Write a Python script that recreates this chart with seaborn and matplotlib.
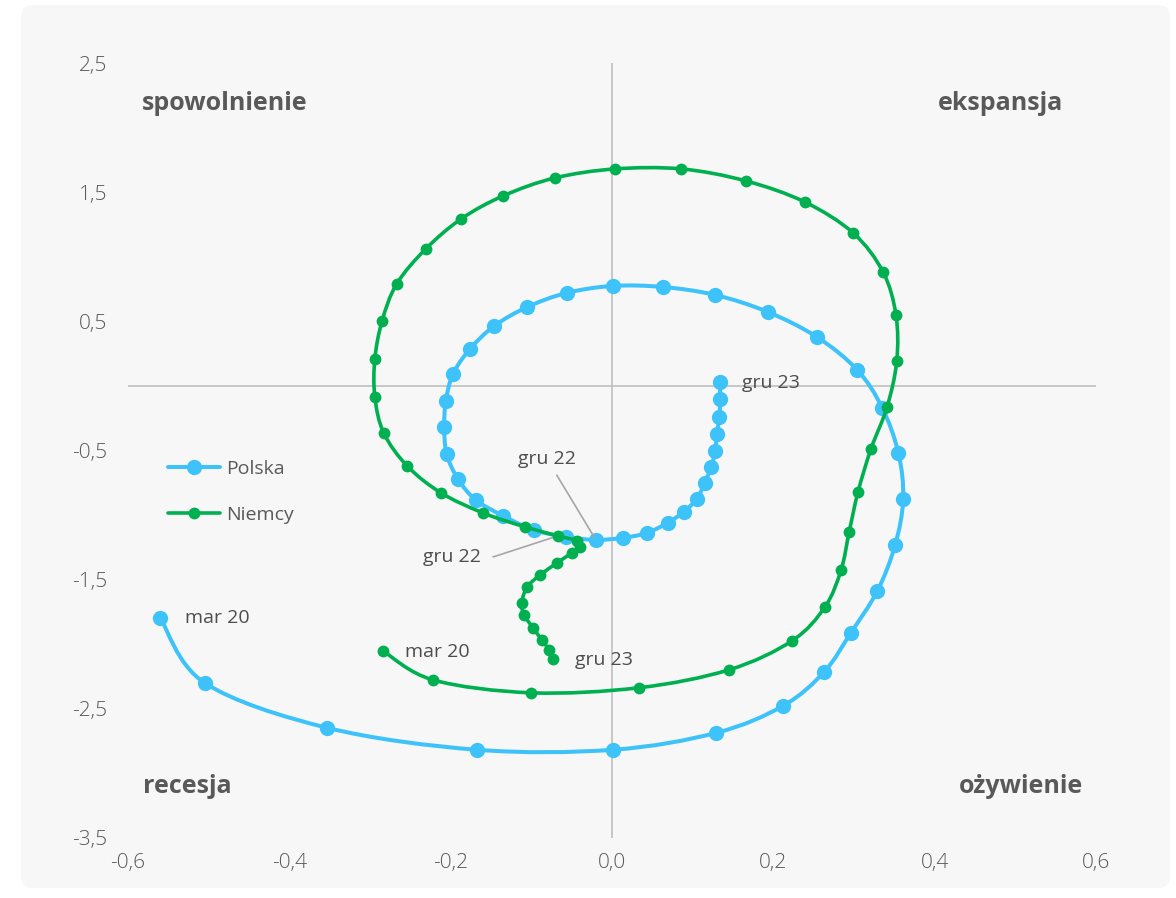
import numpy as np
import pandas as pd
import matplotlib
matplotlib.use("Agg")
import matplotlib.pyplot as plt
import seaborn as sns
from matplotlib.path import Path
from matplotlib.patches import PathPatch, FancyBboxPatch
from matplotlib.lines import Line2D
from matplotlib.transforms import IdentityTransform

# --- DATA (mar 20 .. gru 23, monthly) ---
polska_x = [-0.560, -0.505, -0.353, -0.167, 0.001, 0.129, 0.212, 0.263, 0.296, 0.329,
            0.351, 0.361, 0.355, 0.335, 0.304, 0.254, 0.193, 0.128, 0.063, 0.001,
            -0.056, -0.105, -0.146, -0.176, -0.197, -0.206, -0.208, -0.205, -0.191, -0.169,
            -0.135, -0.097, -0.057, -0.020, 0.014, 0.043, 0.069, 0.089, 0.105, 0.115,
            0.123, 0.128, 0.130, 0.133, 0.134, 0.134]
polska_y = [-1.796, -2.299, -2.647, -2.817, -2.817, -2.686, -2.477, -2.214, -1.912, -1.587,
            -1.231, -0.875, -0.519, -0.170, 0.124, 0.379, 0.573, 0.704, 0.766, 0.774,
            0.720, 0.611, 0.464, 0.286, 0.093, -0.116, -0.317, -0.526, -0.720, -0.882,
            -1.006, -1.115, -1.169, -1.192, -1.176, -1.138, -1.060, -0.975, -0.875, -0.751,
            -0.627, -0.503, -0.372, -0.240, -0.101, 0.031]

niemcy_x = [-0.284, -0.222, -0.100, 0.033, 0.145, 0.223, 0.264, 0.284, 0.294, 0.305,
            0.321, 0.341, 0.353, 0.352, 0.336, 0.299, 0.239, 0.166, 0.086, 0.004,
            -0.071, -0.135, -0.187, -0.231, -0.267, -0.285, -0.294, -0.294, -0.283, -0.254,
            -0.212, -0.160, -0.108, -0.067, -0.043, -0.040, -0.050, -0.068, -0.089, -0.105,
            -0.112, -0.109, -0.098, -0.087, -0.078, -0.073]
niemcy_y = [-2.051, -2.276, -2.376, -2.337, -2.198, -1.974, -1.711, -1.424, -1.130, -0.820,
            -0.488, -0.163, 0.193, 0.550, 0.882, 1.184, 1.424, 1.587, 1.680, 1.680,
            1.610, 1.471, 1.293, 1.060, 0.789, 0.503, 0.209, -0.085, -0.364, -0.619,
            -0.828, -0.983, -1.091, -1.161, -1.200, -1.246, -1.293, -1.370, -1.463, -1.556,
            -1.680, -1.772, -1.873, -1.966, -2.043, -2.113]

months = pd.period_range("2020-03", "2023-12", freq="M")
pl_months = ["sty", "lut", "mar", "kwi", "maj", "cze", "lip", "sie", "wrz", "paź", "lis", "gru"]
month_labels = [f"{pl_months[p.month - 1]} {p.year % 100:02d}" for p in months]

x_ticks = [-0.6, -0.4, -0.2, 0.0, 0.2, 0.4, 0.6]
y_ticks = [-3.5, -2.5, -1.5, -0.5, 0.5, 1.5, 2.5]
quadrants = ["spowolnienie", "ekspansja", "recesja", "ożywienie"]

blue = "#3DC3F9"
green = "#00B050"
gray_txt = "#595959"

df = pd.concat([
    pd.DataFrame({"kraj": "Polska", "x": polska_x, "y": polska_y, "miesiac": month_labels}),
    pd.DataFrame({"kraj": "Niemcy", "x": niemcy_x, "y": niemcy_y, "miesiac": month_labels}),
], ignore_index=True)

sns.set_theme(style="white")
plt.rcParams["font.family"] = ["Open Sans", "DejaVu Sans"]


def smooth_path(xs, ys, t=1 / 6):
    # Excel-like smoothed line: cubic bezier through every point
    pts = np.column_stack([xs, ys])
    verts = [pts[0]]
    codes = [Path.MOVETO]
    n = len(pts)
    for i in range(n - 1):
        p0 = pts[i - 1] if i > 0 else pts[i]
        p1, p2 = pts[i], pts[i + 1]
        p3 = pts[i + 2] if i + 2 < n else pts[i + 1]
        verts += [p1 + (p2 - p0) * t, p2 - (p3 - p1) * t, p2]
        codes += [Path.CURVE4] * 3
    return Path(verts, codes)


fig = plt.figure(figsize=(11.76, 8.98), dpi=100, facecolor="white")
fig.add_artist(FancyBboxPatch((21, 10), 1149, 883, boxstyle="round,pad=0,rounding_size=12",
                              transform=IdentityTransform(), facecolor="#F7F7F7",
                              edgecolor="none", zorder=0))

ax = fig.add_axes([128 / 1176, 1 - 838 / 898, 968 / 1176, 775 / 898])
ax.set_facecolor("none")
ax.set_xlim(-0.6, 0.6)
ax.set_ylim(-3.5, 2.5)

ax.axhline(0, color="#BFBFBF", lw=1.2, zorder=1)
ax.axvline(0, color="#BFBFBF", lw=1.2, zorder=1)

styles = {"Polska": (blue, 2.9, 11), "Niemcy": (green, 2.6, 8.5)}
for i, kraj in enumerate(["Polska", "Niemcy"]):
    d = df[df["kraj"] == kraj]
    col, lw, ms = styles[kraj]
    ax.add_patch(PathPatch(smooth_path(d["x"].values, d["y"].values), facecolor="none",
                           edgecolor=col, lw=lw, capstyle="round", zorder=2 + 2 * i))
    sns.scatterplot(data=d, x="x", y="y", color=col, s=ms ** 2, linewidth=0,
                    legend=False, ax=ax, zorder=3 + 2 * i)

ax.set_xticks(x_ticks)
ax.set_yticks(y_ticks)
ax.set_xticklabels([f"{v:.1f}".replace(".", ",") for v in x_ticks])
ax.set_yticklabels([f"{v:.1f}".replace(".", ",") for v in y_ticks])
ax.tick_params(length=0, labelsize=15, labelcolor=gray_txt)
ax.tick_params(axis="y", pad=15)
ax.tick_params(axis="x", pad=11)
for lab in ax.get_xticklabels() + ax.get_yticklabels():
    lab.set_fontweight("light")
ax.set_xlabel("")
ax.set_ylabel("")
sns.despine(ax=ax, left=True, bottom=True)

# quadrant names
for name, (qx, qy) in zip(quadrants, [(-0.480, 2.19), (0.482, 2.19), (-0.527, -3.10), (0.507, -3.10)]):
    ax.text(qx, qy, name, ha="center", va="center", fontsize=18, fontweight="bold",
            color=gray_txt)

# point labels
lab_kw = dict(textcoords="offset points", fontsize=14, color="#4D4D4D", va="center")
ax.annotate(month_labels[0], (polska_x[0], polska_y[0]), xytext=(18, 0), ha="left", **lab_kw)
ax.annotate(month_labels[0], (niemcy_x[0], niemcy_y[0]), xytext=(16, -1), ha="left", **lab_kw)
ax.annotate(month_labels[-1], (polska_x[-1], polska_y[-1]), xytext=(16, -1), ha="left", **lab_kw)
ax.annotate(month_labels[-1], (niemcy_x[-1], niemcy_y[-1]), xytext=(16, -1), ha="left", **lab_kw)
ax.annotate(month_labels[33], (polska_x[33], polska_y[33]), xytext=(-35, 58), ha="center",
            arrowprops=dict(arrowstyle="-", color="#A6A6A6", lw=1.2, shrinkA=3, shrinkB=2),
            **lab_kw)
ax.annotate(month_labels[33], (niemcy_x[33], niemcy_y[33]), xytext=(-76, -15), ha="center",
            arrowprops=dict(arrowstyle="-", color="#A6A6A6", lw=1.2, shrinkA=6, shrinkB=2,
                            connectionstyle="angle,angleA=0,angleB=18,rad=0"),
            **lab_kw)

handles = [Line2D([], [], color=blue, lw=2.9, marker="o", markersize=11, markeredgewidth=0),
           Line2D([], [], color=green, lw=2.6, marker="o", markersize=8.5, markeredgewidth=0)]
leg = ax.legend(handles, ["Polska", "Niemcy"], loc="upper left",
                bbox_to_anchor=(0.041, 0.488), frameon=False, fontsize=14,
                handlelength=2.7, handletextpad=0.3, labelspacing=1.45,
                borderpad=0, borderaxespad=0)
for t in leg.get_texts():
    t.set_color(gray_txt)

fig.savefig("out.png", dpi=100, facecolor="white")
